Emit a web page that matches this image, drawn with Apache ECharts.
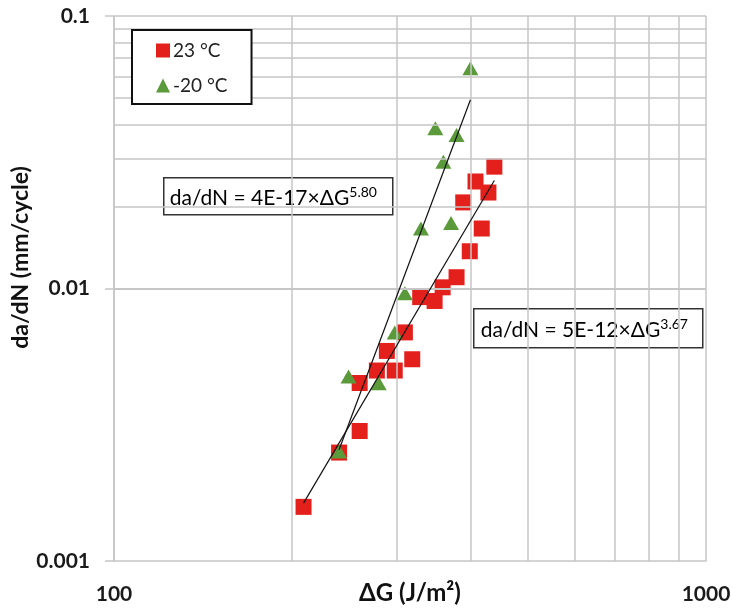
<!DOCTYPE html>
<html>
<head>
<meta charset="utf-8">
<script src="https://cdn.jsdelivr.net/npm/echarts@6/dist/echarts.min.js"></script>
<style>
html,body{margin:0;padding:0;background:#fff;}
#c{width:732px;height:611px;}
</style>
</head>
<body>
<div id="c"></div>
<script>
// ---- data ----
var redName = '23 °C';
var greenName = '-20 °C';
var redX = [439, 408, 429, 389, 418, 399, 379, 359, 329, 348, 310, 319, 289, 278, 298, 260, 260, 240, 209];
var redY = [0.0280, 0.0247, 0.0225, 0.0207, 0.0166, 0.0137, 0.0110, 0.0101, 0.0093, 0.0090, 0.0069, 0.0055, 0.0059, 0.0050, 0.0050, 0.0045, 0.0030, 0.0025, 0.00158];
var greenX = [400, 349, 379, 360, 330, 371, 310, 298, 249, 280, 240];
var greenY = [0.0643, 0.0387, 0.0366, 0.0292, 0.0166, 0.0174, 0.0096, 0.0069, 0.00475, 0.00449, 0.00252];
var redFitX = [209, 439];
var redFitY = [0.00163, 0.0249];
var greenFitX = [240, 400];
var greenFitY = [0.00256, 0.0493];
var xTickValues = [100, 1000];
var xTickLabels = ['100', '1000'];
var yTickValues = [0.001, 0.01, 0.1];
var yTickLabels = ['0.001', '0.01', '0.1'];
var xGridValues = [100, 200, 300, 400, 500, 600, 700, 800, 900, 1000];
var yGridValues = [0.001, 0.002, 0.003, 0.004, 0.005, 0.006, 0.007, 0.008, 0.009, 0.01,
                   0.02, 0.03, 0.04, 0.05, 0.06, 0.07, 0.08, 0.09, 0.1];
var eqGreen = ['da/dN = 4E-17×ΔG', '5.80'];
var eqRed = ['da/dN = 5E-12×ΔG', '3.67'];

function zip(a, b) { return a.map(function (v, i) { return [v, b[i]]; }); }
function lookup(vals, labels) {
  return function (v) {
    for (var i = 0; i < vals.length; i++) {
      if (Math.abs(Math.log10(v) - Math.log10(vals[i])) < 1e-6) return labels[i];
    }
    return '';
  };
}

var FONT = 'Lato, "Open Sans", "DejaVu Sans", sans-serif';
var GRID = '#c6c6c6';
var RED = '#e4201d';
var GREEN = '#5b9a3a';

var gridMarks = xGridValues.map(function (v) { return { xAxis: v }; })
  .concat(yGridValues.map(function (v) { return { yAxis: v }; }));

function eqText(parts) {
  return {
    text: '{a|' + parts[0] + '}{s|' + parts[1] + '}',
    verticalAlign: 'middle',
    rich: {
      a: { fontFamily: FONT, fontSize: 21, color: '#222', lineHeight: 24 },
      s: { fontFamily: FONT, fontSize: 14, color: '#222', lineHeight: 14, verticalAlign: 'top' }
    }
  };
}

var chart = echarts.init(document.getElementById('c'), null, { renderer: 'canvas' });
chart.setOption({
  animation: false,
  backgroundColor: '#fff',
  grid: { left: 114, right: 26, top: 16, bottom: 50, containLabel: false, outerBoundsMode: 'none' },
  legend: {
    data: [redName, greenName],
    orient: 'vertical',
    left: 132,
    top: 30,
    padding: [11, 24, 9, 24],
    itemGap: 16,
    itemWidth: 14,
    itemHeight: 14,
    borderColor: '#111',
    borderWidth: 2,
    backgroundColor: '#fff',
    textStyle: { fontFamily: FONT, fontSize: 19, color: '#222', padding: [0, 0, 0, -2] },
    z: 10
  },
  xAxis: {
    type: 'log',
    logBase: 10,
    min: 100,
    max: 1000,
    name: 'ΔG (J/m²)',
    nameLocation: 'middle',
    nameGap: 20,
    nameMoveOverlap: false,
    nameTextStyle: { fontFamily: FONT, fontSize: 24, fontWeight: 'bold', color: '#111' },
    axisLine: { show: true, lineStyle: { color: GRID, width: 1.5 } },
    axisTick: { show: false },
    splitLine: { show: false },
    minorTick: { show: false },
    axisLabel: {
      margin: 23,
      fontFamily: FONT, fontSize: 21, fontWeight: 'bold', color: '#1a1a1a',
      showMinLabel: true, showMaxLabel: true,
      formatter: lookup(xTickValues, xTickLabels)
    }
  },
  yAxis: {
    type: 'log',
    logBase: 10,
    min: 0.001,
    max: 0.1,
    name: 'da/dN (mm/cycle)',
    nameLocation: 'middle',
    nameRotate: 90,
    nameGap: 82,
    nameMoveOverlap: false,
    nameTextStyle: { fontFamily: FONT, fontSize: 23, fontWeight: 'bold', color: '#111', padding: [0, 0, 0, 62] },
    axisLine: { show: true, lineStyle: { color: GRID, width: 1.5 } },
    axisTick: { show: true, inside: false, length: 9, lineStyle: { color: GRID, width: 1.5 } },
    splitLine: { show: false },
    axisLabel: {
      margin: 24,
      fontFamily: FONT, fontSize: 21, fontWeight: 'bold', color: '#1a1a1a',
      showMinLabel: true, showMaxLabel: true,
      formatter: lookup(yTickValues, yTickLabels)
    }
  },
  series: [
    {
      name: 'grid',
      type: 'line',
      data: [],
      silent: true,
      z: 1,
      markLine: {
        silent: true,
        symbol: ['none', 'none'],
        label: { show: false },
        animation: false,
        lineStyle: { color: GRID, width: 1.5, type: 'solid' },
        emphasis: { disabled: true },
        data: gridMarks
      }
    },
    {
      name: redName,
      type: 'scatter',
      symbol: 'rect',
      symbolSize: 16,
      itemStyle: { color: RED, opacity: 1 },
      data: zip(redX, redY),
      z: 3
    },
    {
      name: greenName,
      type: 'scatter',
      symbol: 'triangle',
      symbolSize: [16, 14],
      itemStyle: { color: GREEN, opacity: 1 },
      data: zip(greenX, greenY),
      z: 4
    },
    {
      name: 'fit23',
      type: 'line',
      data: zip(redFitX, redFitY),
      symbol: 'none',
      lineStyle: { color: '#111', width: 1.2 },
      silent: true,
      z: 5
    },
    {
      name: 'fit-20',
      type: 'line',
      data: zip(greenFitX, greenFitY),
      symbol: 'none',
      lineStyle: { color: '#111', width: 1.2 },
      silent: true,
      z: 5
    }
  ],
  graphic: [
    {
      type: 'group', left: 163, top: 177, z: 20,
      children: [
        { type: 'rect', shape: { x: 0, y: 0, width: 229, height: 37 },
          style: { fill: '#fff', stroke: '#333', lineWidth: 1.5 } },
        { type: 'text', x: 6, y: 20, style: eqText(eqGreen) }
      ]
    },
    {
      type: 'group', left: 473, top: 308, z: 20,
      children: [
        { type: 'rect', shape: { x: 0, y: 0, width: 229, height: 39 },
          style: { fill: '#fff', stroke: '#333', lineWidth: 1.5 } },
        { type: 'text', x: 7, y: 21, style: eqText(eqRed) }
      ]
    }
  ]
});
</script>
</body>
</html>
